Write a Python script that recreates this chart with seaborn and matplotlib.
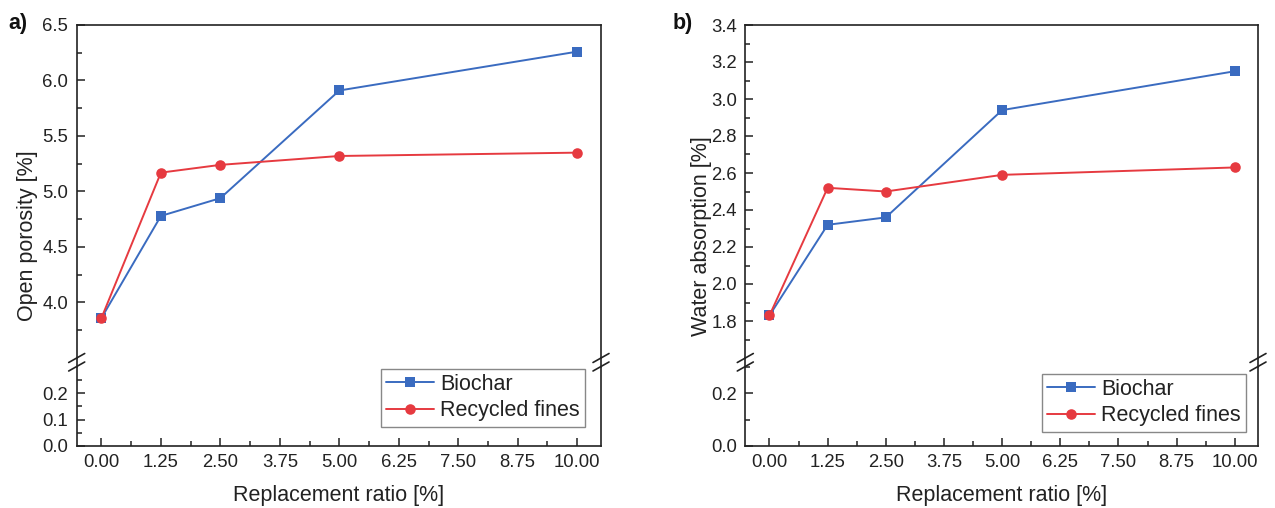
import numpy as np
import pandas as pd
import matplotlib
matplotlib.use("Agg")
import matplotlib.pyplot as plt
from matplotlib.lines import Line2D
from matplotlib.ticker import FixedLocator, FormatStrFormatter
import seaborn as sns

# ---- data ----
ratio = [0.0, 1.25, 2.5, 5.0, 10.0]
materials = ["Biochar", "Recycled fines"]
porosity_biochar = [3.86, 4.78, 4.94, 5.91, 6.26]
porosity_fines = [3.86, 5.17, 5.24, 5.32, 5.35]
absorption_biochar = [1.83, 2.32, 2.36, 2.94, 3.15]
absorption_fines = [1.83, 2.52, 2.50, 2.59, 2.63]
x_ticks = [0.0, 1.25, 2.5, 3.75, 5.0, 6.25, 7.5, 8.75, 10.0]

sns.set_theme(style="ticks")
plt.rcParams["font.family"] = ["Liberation Sans", "DejaVu Sans"]
plt.rcParams["axes.linewidth"] = 1.2
plt.rcParams["axes.edgecolor"] = "#222222"

palette = {"Biochar": "#3a6bc0", "Recycled fines": "#e63a40"}
markers = {"Biochar": "s", "Recycled fines": "o"}
marker_sizes = {"Biochar": 6.8, "Recycled fines": 7.6}

W, H = 1275, 508
fig = plt.figure(figsize=(W / 100, H / 100), dpi=100)


def frac_rect(x0, x1, ytop, ybot):
    return [x0 / W, 1 - ybot / H, (x1 - x0) / W, (ybot - ytop) / H]


def long_frame(a, b):
    return pd.DataFrame({
        "ratio": ratio * 2,
        "value": list(a) + list(b),
        "material": [materials[0]] * len(ratio) + [materials[1]] * len(ratio),
    })


def draw_panel(x0, x1, df, up_lim, up_major, up_minor, low_major, low_minor,
               ylabel, ylabel_x, tag, tag_x, legend_box):
    y_top, y_up_bot, y_low_top, y_bot = 25, 358, 366.5, 446
    ax_up = fig.add_axes(frac_rect(x0, x1, y_top, y_up_bot))
    ax_low = fig.add_axes(frac_rect(x0, x1, y_low_top, y_bot))

    for ax in (ax_up, ax_low):
        sns.lineplot(data=df, x="ratio", y="value", hue="material", style="material",
                     hue_order=materials, style_order=materials,
                     palette=palette, markers=markers, dashes=False,
                     markersize=7, markeredgewidth=0, linewidth=1.4,
                     legend=False, ax=ax)
        for line, name in zip(ax.get_lines()[:2], materials):
            line.set_markersize(marker_sizes[name])
        ax.set_xlim(-0.52, 10.5)
        ax.set_xlabel("")
        ax.set_ylabel("")
        ax.tick_params(axis="both", which="both", direction="in", labelsize=13.3,
                       colors="#222222", width=1.1, pad=6)
        ax.tick_params(which="major", length=5.5)
        ax.tick_params(which="minor", length=3.5)
        ax.spines["right"].set_visible(True)
        ax.xaxis.set_major_locator(FixedLocator(x_ticks))
        ax.xaxis.set_minor_locator(FixedLocator([t + 0.625 for t in x_ticks[:-1]]))
        ax.xaxis.set_major_formatter(FormatStrFormatter("%.2f"))

    ax_up.set_ylim(*up_lim)
    ax_up.yaxis.set_major_locator(FixedLocator(up_major))
    ax_up.yaxis.set_minor_locator(FixedLocator(up_minor))
    ax_up.yaxis.set_major_formatter(FormatStrFormatter("%.1f"))
    ax_up.spines["bottom"].set_visible(False)
    ax_up.spines["top"].set_visible(True)
    ax_up.tick_params(axis="x", which="both", bottom=False, labelbottom=False)

    ax_low.set_ylim(0, 0.3)
    ax_low.yaxis.set_major_locator(FixedLocator(low_major))
    ax_low.yaxis.set_minor_locator(FixedLocator(low_minor))
    ax_low.yaxis.set_major_formatter(FormatStrFormatter("%.1f"))
    ax_low.spines["top"].set_visible(False)
    ax_low.set_xlabel("Replacement ratio [%]", fontsize=15.5, labelpad=10, color="#222222")

    # axis break: spine bridge plus paired slashes on both sides
    for px in (x0, x1):
        fig.add_artist(Line2D([px / W, px / W], [1 - y_up_bot / H, 1 - y_low_top / H],
                              transform=fig.transFigure, color="#222222", lw=1.2))
        for py in (y_up_bot, y_low_top):
            fig.add_artist(Line2D([(px - 8) / W, (px + 8) / W],
                                  [1 - (py + 4.5) / H, 1 - (py - 4.5) / H],
                                  transform=fig.transFigure, color="#222222", lw=1.2))

    fig.text(ylabel_x / W, 1 - 236 / H, ylabel, rotation=90, ha="center", va="center",
             fontsize=15.5, color="#222222")
    fig.text(tag_x / W, 1 - 24 / H, tag, ha="center", va="center",
             fontsize=15.5, fontweight="bold", color="#111111")

    handles = ax_up.get_lines()[:2]
    leg = ax_low.legend(handles, materials, loc="lower right",
                        bbox_to_anchor=(legend_box[0] / W, 1 - legend_box[1] / H),
                        bbox_transform=fig.transFigure,
                        fontsize=15.5, frameon=True, fancybox=False, framealpha=1,
                        edgecolor="#888888", borderpad=0.25, labelspacing=0.25,
                        handlelength=2.2, handletextpad=0.3, borderaxespad=0)
    leg.get_frame().set_linewidth(1.0)
    for t in leg.get_texts():
        t.set_color("#222222")
    return ax_up, ax_low


df_a = long_frame(porosity_biochar, porosity_fines)
df_b = long_frame(absorption_biochar, absorption_fines)

draw_panel(76.7, 601, df_a, (3.5, 6.5),
           [4.0, 4.5, 5.0, 5.5, 6.0, 6.5], [3.75, 4.25, 4.75, 5.25, 5.75, 6.25],
           [0.0, 0.1, 0.2], [0.05, 0.15, 0.25],
           "Open porosity [%]", 28, "a)", 18, (585, 426.7))

draw_panel(745.3, 1258, df_b, (1.6, 3.4),
           [1.8, 2.0, 2.2, 2.4, 2.6, 2.8, 3.0, 3.2, 3.4],
           [1.7, 1.9, 2.1, 2.3, 2.5, 2.7, 2.9, 3.1, 3.3],
           [0.0, 0.2], [0.1, 0.3],
           "Water absorption [%]", 702, "b)", 683, (1246, 431.7))

fig.savefig("out.png", dpi=100)
